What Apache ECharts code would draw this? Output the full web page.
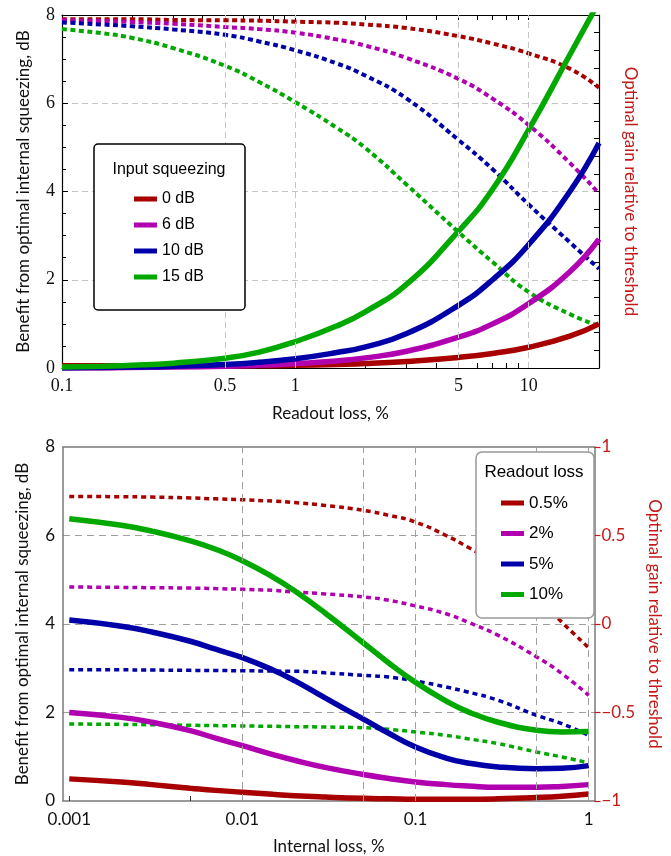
<!DOCTYPE html>
<html><head><meta charset="utf-8">
<script src="https://cdn.jsdelivr.net/npm/echarts@6/dist/echarts.min.js"></script>
<style>html,body{margin:0;padding:0;background:#fff}#c{width:671px;height:856px}</style>
</head><body><div id="c"></div>
<script>
// ---------- Top panel: benefit vs readout loss ----------
const readoutLoss = [0.1,0.15,0.2,0.3,0.5,0.7,1,1.5,2,3,5,7,10,15,20];
const squeezingNames = ['0 dB','6 dB','10 dB','15 dB'];
const benefit0dB  = [0.05,0.05,0.05,0.05,0.05,0.05,0.06,0.08,0.1,0.15,0.24,0.33,0.47,0.72,1.0];
const benefit6dB  = [0,0,0.01,0.02,0.04,0.06,0.1,0.16,0.23,0.38,0.7,1.0,1.46,2.18,2.92];
const benefit10dB = [0,0.01,0.02,0.04,0.08,0.13,0.21,0.35,0.48,0.78,1.42,2.0,2.8,4.0,5.1];
const benefit15dB = [0.02,0.04,0.06,0.11,0.22,0.36,0.6,0.95,1.28,1.9,3.1,4.05,5.4,7.1,8.3];
const gain0dB  = [0.988,0.988,0.988,0.986,0.985,0.984,0.981,0.978,0.973,0.963,0.94,0.919,0.891,0.848,0.794];
const gain6dB  = [0.985,0.983,0.98,0.975,0.966,0.96,0.95,0.931,0.913,0.878,0.819,0.763,0.688,0.581,0.494];
const gain10dB = [0.979,0.973,0.968,0.959,0.944,0.925,0.9,0.863,0.828,0.763,0.646,0.563,0.463,0.356,0.281];
const gain15dB = [0.96,0.948,0.935,0.906,0.856,0.81,0.753,0.681,0.6225,0.519,0.385,0.3,0.215,0.1525,0.119];
const topTickValues  = [0.1,0.2,0.3,0.4,0.5,0.6,0.7,0.8,0.9,1,2,3,4,5,6,7,8,9,10,20];
const topLabelValues = [0.1,0.5,1,5,10];
const topGridValues  = [0.5,1,5,10];

// ---------- Bottom panel: benefit vs internal loss ----------
const internalLoss = [0.001,0.002,0.003,0.005,0.007,0.01,0.015,0.02,0.03,0.05,0.07,0.1,0.15,0.2,0.3,0.5,0.7,1];
const readoutNames = ['0.5%','2%','5%','10%'];
const benefitR05 = [0.5,0.43,0.37,0.29,0.24,0.2,0.15,0.12,0.09,0.06,0.05,0.04,0.04,0.04,0.05,0.08,0.11,0.16];
const benefitR2  = [2.0,1.89,1.78,1.59,1.42,1.25,1.05,0.92,0.76,0.6,0.51,0.43,0.37,0.34,0.31,0.31,0.33,0.37];
const benefitR5  = [4.09,3.95,3.82,3.61,3.43,3.24,2.96,2.72,2.33,1.85,1.53,1.22,0.97,0.86,0.77,0.73,0.74,0.8];
const benefitR10 = [6.38,6.23,6.1,5.88,5.69,5.43,5.06,4.75,4.25,3.57,3.12,2.68,2.26,2.02,1.78,1.6,1.56,1.57];
const gainR05 = [0.721,0.719,0.717,0.712,0.707,0.702,0.694,0.686,0.67,0.642,0.614,0.576,0.5,0.435,0.33,0.15,0.01,-0.135];
const gainR2  = [0.209,0.207,0.205,0.203,0.2,0.196,0.19,0.181,0.17,0.153,0.134,0.102,0.058,0.011,-0.064,-0.186,-0.28,-0.403];
const gainR5  = [-0.258,-0.259,-0.26,-0.262,-0.263,-0.264,-0.266,-0.267,-0.276,-0.29,-0.3,-0.322,-0.356,-0.384,-0.431,-0.516,-0.563,-0.629];
const gainR10 = [-0.565,-0.567,-0.569,-0.572,-0.574,-0.576,-0.578,-0.58,-0.582,-0.586,-0.595,-0.61,-0.629,-0.648,-0.676,-0.723,-0.751,-0.785];
const bottomTickValues  = [0.001,0.005,0.01,0.05,0.1,0.5,1];
const bottomLabelValues = [0.001,0.01,0.1,1];
const rightTickLabels = [-1,-0.5,0,0.5,1];

const colors = ['#a80000','#b000b0','#0000a8','#00a800'];
const RED = '#c41a1a';
const nameFont = 'Lato';
const SMOOTH = 0.5;

function pairs(xs, ys){ return xs.map((x,i)=>[x, ys[i]]); }
const fmt = v => String(+(+v).toPrecision(6));

const series = [];
// gridline helper series
series.push({type:'line', xAxisIndex:0, yAxisIndex:0, data:[], silent:true, z:1,
  markLine:{silent:true, symbol:['none','none'], label:{show:false}, animation:false,
    lineStyle:{color:'#c4c4c4', type:[6,4], width:1}, emphasis:{disabled:true},
    data: topGridValues.map(v=>({xAxis:v}))}});
series.push({type:'line', xAxisIndex:2, yAxisIndex:2, data:[], silent:true, z:1,
  markLine:{silent:true, symbol:['none','none'], label:{show:false}, animation:false,
    lineStyle:{color:'#a0a0a0', type:[7,5], width:1}, emphasis:{disabled:true},
    data: bottomTickValues.map(v=>({xAxis:v}))}});

const topGains = [gain0dB, gain6dB, gain10dB, gain15dB];
const topBenefits = [benefit0dB, benefit6dB, benefit10dB, benefit15dB];
topGains.forEach((g,i)=>series.push({name:'gain '+squeezingNames[i], type:'line', xAxisIndex:0, yAxisIndex:1,
  data:pairs(readoutLoss,g), smooth:SMOOTH, symbol:'none', z:3,
  lineStyle:{color:colors[i], width:4, type:[5,3.5], cap:'butt'}, itemStyle:{color:colors[i]}}));
topBenefits.forEach((b,i)=>series.push({name:squeezingNames[i], type:'line', xAxisIndex:0, yAxisIndex:0,
  data:pairs(readoutLoss,b), smooth:SMOOTH, symbol:'none', z:4,
  lineStyle:{color:colors[i], width:5.5}, itemStyle:{color:colors[i]}}));

const botGains = [gainR05, gainR2, gainR5, gainR10];
const botBenefits = [benefitR05, benefitR2, benefitR5, benefitR10];
botGains.forEach((g,i)=>series.push({name:'gain '+readoutNames[i], type:'line', xAxisIndex:2, yAxisIndex:3,
  data:pairs(internalLoss,g), smooth:SMOOTH, symbol:'none', z:3,
  lineStyle:{color:colors[i], width:3.5, type:[5,4], cap:'butt'}, itemStyle:{color:colors[i]}}));
botBenefits.forEach((b,i)=>series.push({name:readoutNames[i], type:'line', xAxisIndex:2, yAxisIndex:2,
  data:pairs(internalLoss,b), smooth:SMOOTH, symbol:'none', z:4,
  lineStyle:{color:colors[i], width:5.5}, itemStyle:{color:colors[i]}}));

const blackLine = {show:true, onZero:false, lineStyle:{color:'#000', width:1.2}};
const grayLine  = {show:true, onZero:false, lineStyle:{color:'#7a7a7a', width:1.5}};

const option = {
  animation:false,
  backgroundColor:'#fff',
  grid:[
    {left:62, right:72, top:15, height:353},
    {left:63, right:74, top:447, height:354}
  ],
  xAxis:[
    {type:'log', gridIndex:0, min:0.1, max:20, position:'bottom', axisLine:blackLine,
     axisTick:{show:true, inside:true, length:5, customValues:topTickValues, lineStyle:{color:'#000'}},
     axisLabel:{customValues:topLabelValues, formatter:fmt, fontFamily:'Liberation Serif', fontSize:18, color:'#111', margin:9},
     splitLine:{show:false}, minorTick:{show:false},
     name:'Readout loss, %', nameLocation:'middle', nameGap:37,
     nameTextStyle:{fontFamily:nameFont, fontSize:17, color:'#111'}},
    {type:'log', gridIndex:0, min:0.1, max:20, position:'top', axisLine:blackLine,
     axisTick:{show:true, inside:true, length:5, customValues:topTickValues, lineStyle:{color:'#000'}},
     axisLabel:{show:false}, splitLine:{show:false}},
    {type:'log', gridIndex:1, min:0.00092, max:1.08, position:'bottom', axisLine:grayLine,
     axisTick:{show:true, inside:true, length:5, customValues:bottomTickValues, lineStyle:{color:'#333'}},
     axisLabel:{customValues:bottomLabelValues, formatter:fmt, fontFamily:nameFont, fontSize:17, color:'#111', margin:10},
     splitLine:{show:false},
     name:'Internal loss, %', nameLocation:'middle', nameGap:37,
     nameTextStyle:{fontFamily:nameFont, fontSize:17, color:'#111'}},
    {type:'log', gridIndex:1, min:0.00092, max:1.08, position:'top', axisLine:grayLine,
     axisTick:{show:false}, axisLabel:{show:false}, splitLine:{show:false}}
  ],
  yAxis:[
    {type:'value', gridIndex:0, min:0, max:8, interval:2, position:'left', axisLine:blackLine,
     axisTick:{show:true, inside:true, length:6, lineStyle:{color:'#000'}},
     minorTick:{show:true, splitNumber:4, length:4, lineStyle:{color:'#000'}},
     axisLabel:{fontFamily:'Liberation Serif', fontSize:18, color:'#111', margin:7},
     splitLine:{show:true, showMinLine:false, showMaxLine:false, lineStyle:{color:'#c4c4c4', type:[6,4], width:1}},
     name:'Benefit from optimal internal squeezing, dB', nameLocation:'middle', nameGap:30, nameRotate:90,
     nameTextStyle:{fontFamily:nameFont, fontSize:17, color:'#111'}},
    {type:'value', gridIndex:0, min:0, max:1, interval:0.05, position:'right', axisLine:blackLine,
     axisTick:{show:true, inside:true, length:5, lineStyle:{color:'#000'}},
     axisLabel:{show:false}, splitLine:{show:false},
     name:'Optimal gain relative to threshold', nameLocation:'middle', nameGap:23, nameRotate:-90,
     nameTextStyle:{fontFamily:nameFont, fontSize:17, color:RED}},
    {type:'value', gridIndex:1, min:0, max:8, interval:2, position:'left', axisLine:grayLine,
     axisTick:{show:false},
     axisLabel:{fontFamily:nameFont, fontSize:17, color:'#111', margin:8},
     splitLine:{show:true, showMinLine:false, showMaxLine:false, lineStyle:{color:'#a0a0a0', type:[7,5], width:1}},
     name:'Benefit from optimal internal squeezing, dB', nameLocation:'middle', nameGap:32, nameRotate:90,
     nameTextStyle:{fontFamily:nameFont, fontSize:17, color:'#111'}},
    {type:'value', gridIndex:1, min:-1, max:1, interval:0.5, position:'right', axisLine:grayLine,
     axisTick:{show:true, inside:false, length:6, lineStyle:{color:RED, width:1.2}},
     axisLabel:{customValues:rightTickLabels, formatter:v=> v<0 ? '\u2212'+(-v) : String(v),
       fontFamily:nameFont, fontSize:17, color:RED, margin:7},
     splitLine:{show:false},
     name:'Optimal gain relative to threshold', nameLocation:'middle', nameGap:40, nameRotate:-90,
     nameTextStyle:{fontFamily:nameFont, fontSize:17, color:RED}}
  ],
  legend:[
    {data:squeezingNames, orient:'vertical', left:134, top:190, padding:0, itemGap:8,
     itemWidth:23, itemHeight:5, icon:'rect', z:30, selectedMode:false,
     textStyle:{fontFamily:'Liberation Sans', fontSize:16, lineHeight:18, color:'#000'}},
    {data:readoutNames, orient:'vertical', left:501, top:493, padding:0, itemGap:10.5,
     itemWidth:23, itemHeight:5, icon:'rect', z:30, selectedMode:false,
     textStyle:{fontFamily:'Liberation Sans', fontSize:17, lineHeight:20, color:'#000'}}
  ],
  graphic:[
    {type:'rect', z:20, silent:true, shape:{x:94, y:144, width:151, height:166, r:4},
     style:{fill:'#fff', stroke:'#000', lineWidth:1.5}},
    {type:'text', z:31, silent:true, x:169, y:170,
     style:{text:'Input squeezing', fill:'#000', font:'16px "Liberation Sans"', align:'center', verticalAlign:'middle'}},
    {type:'rect', z:20, silent:true, shape:{x:476, y:452, width:118, height:166, r:6},
     style:{fill:'#fff', stroke:'#999', lineWidth:1.5}},
    {type:'text', z:31, silent:true, x:534, y:472,
     style:{text:'Readout loss', fill:'#000', font:'17px "Liberation Sans"', align:'center', verticalAlign:'middle'}}
  ],
  series: series
};

const chart = echarts.init(document.getElementById('c'), null, {renderer:'canvas'});
chart.setOption(option);
</script>
</body></html>
